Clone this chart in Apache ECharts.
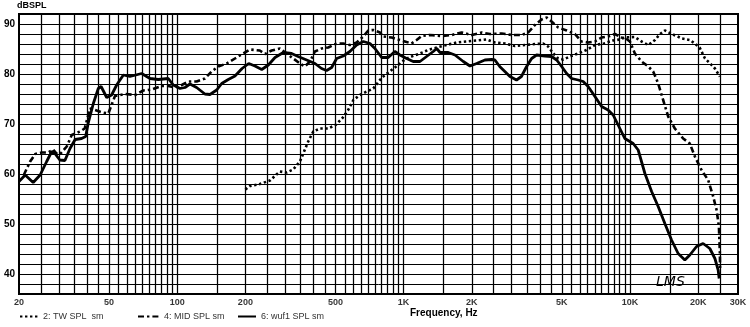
<!DOCTYPE html>
<html>
<head>
<meta charset="utf-8">
<script src="https://cdn.jsdelivr.net/npm/echarts@6/dist/echarts.min.js"></script>
<style>
  html, body { margin: 0; padding: 0; background: #fff; }
  #chart { width: 750px; height: 327px; }
</style>
</head>
<body>
<div id="chart"></div>
<script>
// Smoothed SPL responses, [frequency in Hz, level in dB SPL]
const twSpl = [
  [200, 56.9], [209.6, 57.6], [231.6, 58.0], [256.9, 58.7], [283.9, 60.5], [304.2, 60.3],
  [325.4, 60.9], [348.3, 62.5], [379, 66.5], [399, 68.5], [427.6, 69.1], [464.3, 69.1],
  [500, 69.8], [535, 71.1], [569, 72.8], [600, 74.8], [641, 75.8], [687, 76.5],
  [734.5, 77.1], [786, 78.8], [813, 79.5], [885, 80.8], [946.5, 81.8], [1013, 82.9],
  [1084, 83.5], [1181, 84.1], [1284, 84.8], [1400, 85.3], [1549, 85.8], [1712, 86.3],
  [1899, 86.5], [2102, 86.7], [2326, 86.9], [2530, 86.3], [2802, 86.1], [3101, 85.6],
  [3434, 85.8], [3802, 86.0], [4135, 86.1], [4351, 85.5], [4585, 84.1], [4820, 83.1],
  [5071, 82.9], [5428, 83.5], [5903, 84.1], [6429, 84.8], [7000, 85.8], [7678, 86.1],
  [8426, 86.7], [9018, 86.9], [9486, 87.3], [10510, 87.4], [11250, 86.5], [12040, 85.8],
  [12900, 86.8], [13570, 88.0], [14256, 88.7], [15300, 88.0], [16970, 87.1], [18380, 86.8],
  [19340, 86.1], [20360, 85.2], [21440, 83.1], [22520, 82.2], [23720, 81.1], [24950, 79.5]
];

const midSpl = [
  [21.0, 59.8], [22.4, 62.5], [23.6, 64.0], [25.2, 64.3], [26.9, 64.3], [28.3, 64.9],
  [29.3, 64.1], [30.3, 63.9], [32.5, 65.5], [34.2, 67.8], [37.2, 68.5], [39.0, 69.1],
  [41.2, 73.1], [43.3, 72.8], [46.7, 72.3], [49.6, 72.1], [53.1, 75.6], [58.8, 76.0],
  [65.1, 75.8], [70.8, 76.7], [77.2, 76.9], [85.4, 77.6], [91.3, 77.6], [97.8, 77.3],
  [104.7, 77.8], [112, 78.5], [121.8, 78.5], [132.5, 79.1], [141.9, 80.5], [151.8, 81.5],
  [165.4, 82.1], [179.9, 83.1], [195.8, 84.1], [209.6, 84.9], [220.5, 84.8], [231.6, 84.7],
  [244.2, 84.0], [261.3, 84.7], [283.9, 85.1], [304.2, 84.1], [325.4, 83.1], [348.3, 82.1],
  [366.2, 81.5], [386, 82.5], [405.7, 84.5], [434.3, 85.1], [464.3, 85.3], [506, 86.1],
  [541, 86.1], [579, 85.8], [620, 86.3], [663.5, 87.5], [698, 88.7], [734.5, 88.8],
  [786.3, 88.3], [812.8, 87.5], [885.4, 87.3], [946.5, 86.9], [1013, 86.5], [1084, 86.1],
  [1142, 86.8], [1201, 87.6], [1306, 87.8], [1473, 87.6], [1630, 87.8], [1804, 88.3],
  [2000, 87.8], [2211, 88.3], [2405, 88.0], [2711, 88.1], [3000, 87.8], [3321, 87.8],
  [3552, 88.3], [3802, 89.8], [4069, 90.9], [4286, 91.3], [4505, 90.5], [4820, 89.3],
  [5250, 88.7], [5710, 88.0], [6110, 86.5], [6533, 86.3], [7000, 86.5], [7493, 87.3],
  [8146, 87.6], [8582, 88.0], [9174, 87.3], [9661, 87.0], [9990, 86.5], [10510, 84.1],
  [11250, 82.5], [12040, 81.5], [12660, 80.5], [13320, 78.1], [14010, 74.8], [14750, 71.5],
  [15780, 69.1], [17170, 67.1], [18380, 66.1], [19340, 63.5], [20700, 60.8], [22140, 58.8],
  [23310, 55.5], [24130, 52.8], [24700, 49.5], [24950, 44.1], [25000, 41.0]
];

const wooferSpl = [
  [20, 58.5], [21.3, 59.8], [23.1, 58.3], [24.8, 59.8], [26.5, 62.5], [27.9, 64.5],
  [28.8, 64.1], [30.3, 62.8], [31.9, 62.7], [33.6, 65.1], [35.4, 66.9], [37.8, 67.1],
  [39.4, 67.5], [40.4, 70.1], [42.6, 74.1], [44.8, 77.1], [46.1, 77.5], [48.8, 75.3],
  [51.3, 75.8], [54.0, 77.8], [57.8, 79.8], [61.8, 79.5], [69.6, 80.1], [75.8, 79.1],
  [82.4, 78.9], [91.3, 79.1], [96.1, 77.8], [102.9, 77.1], [108.2, 77.3], [113.8, 78.0],
  [121.8, 77.3], [132.5, 76.0], [139.5, 75.9], [149.4, 76.8], [157.2, 78.1], [168.1, 78.9],
  [179.9, 79.6], [193.4, 81.1], [206.9, 82.1], [220.5, 81.6], [236.2, 80.9], [252.6, 81.8],
  [270.4, 83.3], [294, 84.3], [320, 84.1], [342, 83.5], [373, 82.8], [406, 82.1],
  [434, 81.1], [457, 80.7], [481, 81.3], [506, 83.1], [541, 83.6], [579, 84.5],
  [620, 85.8], [664, 86.5], [710, 86.1], [747, 85.1], [800, 83.3], [855, 83.3],
  [915, 84.5], [963, 83.8], [1031, 83.1], [1102, 82.5], [1181, 82.5], [1263, 83.5],
  [1352, 84.5], [1400, 85.1], [1448, 84.3], [1575, 84.3], [1686, 83.8], [1835, 82.5],
  [1964, 81.6], [2102, 82.1], [2287, 82.8], [2450, 82.9], [2530, 82.8], [2658, 81.5],
  [2949, 79.5], [3153, 78.8], [3314, 79.5], [3495, 81.5], [3677, 83.1], [3868, 83.8],
  [4209, 83.6], [4505, 83.5], [4744, 82.8], [4990, 81.5], [5250, 80.1], [5523, 79.1],
  [5903, 78.8], [6210, 78.5], [6533, 77.5], [7000, 75.5], [7493, 73.5], [8000, 72.8],
  [8426, 71.8], [8864, 69.8], [9486, 67.1], [10330, 66.1], [10870, 64.8], [11640, 60.1],
  [12460, 56.5], [13320, 53.5], [14256, 50.1], [15260, 46.8], [16320, 44.1], [17470, 42.8],
  [18380, 43.8], [19680, 45.5], [21040, 46.1], [22520, 45.1], [23720, 43.1], [24520, 40.8],
  [24770, 39.1]
];

// Axis ranges and labelled ticks
const freqMin = 20;
const freqMax = 30000;
const splMin = 36;
const splMax = 92;
const freqTicks = [20, 50, 100, 200, 500, 1000, 2000, 5000, 10000, 20000, 30000];
const freqTickLabels = ['20', '50', '100', '200', '500', '1K', '2K', '5K', '10K', '20K', '30K'];

const seriesNames = ['2: TW SPL  sm', '4: MID SPL sm', '6: wuf1 SPL sm'];

// Vertical grid: half-decade steps (20,25,...,100,150,...,1000,1500,...)
const gridFreqs = [];
for (let decade = 10; decade <= 10000; decade *= 10) {
  const step = decade / 2;
  for (let f = decade; f <= decade * 10; f += step) {
    if (f > freqMin && f < freqMax && gridFreqs.indexOf(f) < 0) gridFreqs.push(f);
  }
}

const FONT = '"Liberation Sans", Arial, sans-serif';
const chart = echarts.init(document.getElementById('chart'), null, { renderer: 'canvas' });

const legendBase = {
  orient: 'horizontal',
  padding: 0,
  top: 312,
  itemHeight: 10,
  itemGap: 4,
  textStyle: { fontFamily: FONT, fontSize: 9, color: '#333' },
  itemStyle: { color: 'rgba(0,0,0,0)', borderWidth: 0 },
  selectedMode: false
};

chart.setOption({
  animation: false,
  backgroundColor: '#ffffff',
  grid: {
    left: 19, right: 12, top: 14, bottom: 33,
    show: true, borderColor: '#000', borderWidth: 2, backgroundColor: '#fff'
  },
  xAxis: {
    type: 'log', logBase: 10, min: freqMin, max: freqMax,
    axisLine: { show: false }, axisTick: { show: false },
    axisLabel: { show: false }, splitLine: { show: false }
  },
  yAxis: {
    type: 'value', min: splMin, max: splMax, interval: 2,
    axisLine: { show: false }, axisTick: { show: false },
    axisLabel: {
      margin: 4, fontFamily: FONT, fontSize: 10, fontWeight: 'bold', color: '#000',
      formatter: v => (v % 10 === 0 ? String(v) : '')
    },
    splitLine: { show: true, lineStyle: { color: '#000', width: 1 } }
  },
  legend: [
    Object.assign({}, legendBase, { data: [seriesNames[0]], left: 19, itemWidth: 18 }),
    Object.assign({}, legendBase, { data: [seriesNames[1]], left: 137, itemWidth: 21 }),
    Object.assign({}, legendBase, { data: [seriesNames[2]], left: 237, itemWidth: 18 })
  ],
  graphic: [
    { type: 'text', left: 17, top: 1, silent: true,
      style: { text: 'dBSPL', font: 'bold 9px ' + FONT, fill: '#000' } },
    { type: 'text', left: 410, top: 308, silent: true,
      style: { text: 'Frequency, Hz', font: 'bold 10px ' + FONT, fill: '#000' } },
    { type: 'text', left: 656, top: 275, silent: true,
      style: { text: 'LMS', font: 'italic 14px "DejaVu Sans", sans-serif', fill: '#000' } }
  ],
  series: [
    {
      name: 'grid-lines', type: 'line', data: [], silent: true, z: 1,
      markLine: {
        silent: true, symbol: ['none', 'none'], animation: false,
        label: { show: false },
        lineStyle: { color: '#000', width: 1.25, type: 'solid' },
        emphasis: { disabled: true },
        data: gridFreqs.map(f => ({ xAxis: f }))
      }
    },
    {
      name: 'freq-ticks', type: 'scatter', silent: true, clip: false, z: 5,
      symbolSize: 0,
      data: freqTicks.map(f => [f, splMin]),
      label: {
        show: true, position: 'bottom', distance: 4,
        fontFamily: FONT, fontSize: 9, fontWeight: 'bold', color: '#000',
        formatter: p => freqTickLabels[p.dataIndex]
      }
    },
    {
      name: seriesNames[0], type: 'line', data: twSpl, z: 3,
      symbol: 'none', showSymbol: false, smooth: false, clip: true,
      lineStyle: { color: '#000', width: 2.6, type: [2.4, 2.6], cap: 'butt' },
      itemStyle: { color: '#000' }
    },
    {
      name: seriesNames[1], type: 'line', data: midSpl, z: 3,
      symbol: 'none', showSymbol: false, smooth: false, clip: true,
      lineStyle: { color: '#000', width: 2.6, type: [6, 3, 2.4, 3], cap: 'butt' },
      itemStyle: { color: '#000' }
    },
    {
      name: seriesNames[2], type: 'line', data: wooferSpl, z: 4,
      symbol: 'none', showSymbol: false, smooth: false, clip: true,
      lineStyle: { color: '#000', width: 2.8 },
      itemStyle: { color: '#000' }
    }
  ]
});
</script>
</body>
</html>
